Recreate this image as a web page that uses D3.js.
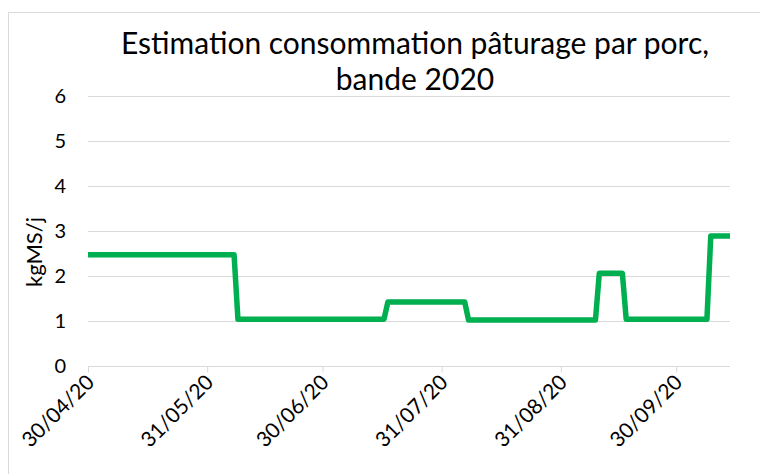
<!DOCTYPE html>
<html>
<head>
<meta charset="utf-8">
<script src="https://cdn.jsdelivr.net/npm/d3@7"></script>
<style>
  body { margin: 0; background: #fff; }
  svg { display: block; font-family: "Lato", "Liberation Sans", sans-serif; }
</style>
</head>
<body>
<div id="chart"></div>
<script>
// consommation pâturage, points de rupture de la courbe (kgMS/j par porc)
const dates = ['2020-04-30', '2020-06-07', '2020-06-08', '2020-07-16', '2020-07-17', '2020-08-06', '2020-08-07',
  '2020-09-09', '2020-09-10', '2020-09-16', '2020-09-17', '2020-10-08', '2020-10-09', '2020-10-14'];
const values = [2.47, 2.47, 1.04, 1.04, 1.42, 1.42, 1.02, 1.02, 2.06, 2.06, 1.04, 1.04, 2.89, 2.89];
const xTicks = ['2020-04-30', '2020-05-31', '2020-06-30', '2020-07-31', '2020-08-31', '2020-09-30'];
const yTicks = [0, 1, 2, 3, 4, 5, 6];
const titleLines = ['Estimation consommation pâturage par porc,', 'bande 2020'];
const yTitle = 'kgMS/j';

const width = 760;
const height = 474;
const parse = d3.utcParse('%Y-%m-%d');
const fmt = d3.utcFormat('%d/%m/%y');
const gridColor = '#d9d9d9';
const lineColor = '#00b050';

const svg = d3.select('#chart').append('svg').attr('width', width).attr('height', height);

// cadre du graphique
svg.append('rect').attr('x', 8.5).attr('y', 12.5).attr('width', 800).attr('height', 500)
  .attr('fill', 'none').attr('stroke', gridColor);

const x = d3.scaleUtc().domain([parse(dates[0]), parse(dates[dates.length - 1])]).range([88, 730]);
const y = d3.scaleLinear().domain([0, 6]).range([366, 96]);

// titre
svg.append('text').attr('text-anchor', 'middle').attr('font-size', 30).attr('fill', '#000')
  .selectAll('tspan').data(titleLines).join('tspan')
  .attr('x', 415).attr('y', (d, i) => 54 + i * 36).text(d => d);

// grille horizontale
svg.append('g').selectAll('line').data(yTicks).join('line')
  .attr('x1', x.range()[0]).attr('x2', x.range()[1])
  .attr('y1', d => Math.round(y(d)) + 0.5).attr('y2', d => Math.round(y(d)) + 0.5)
  .attr('stroke', gridColor).attr('stroke-width', 1);

// axe Y
svg.append('g').attr('font-size', 20).attr('fill', '#000')
  .selectAll('text').data(yTicks).join('text')
  .attr('x', 66).attr('y', d => y(d)).attr('dy', '0.35em').attr('text-anchor', 'end').text(d => d);

svg.append('text').attr('transform', 'translate(42,252) rotate(-90)').attr('text-anchor', 'middle')
  .attr('font-size', 22).attr('fill', '#000').text(yTitle);

// axe X
const xAxis = d3.axisBottom(x).tickValues(xTicks.map(parse)).tickSize(6).tickFormat(fmt);
const gx = svg.append('g').attr('transform', `translate(0,${Math.round(y(0)) + 0.5})`).call(xAxis);
gx.select('.domain').remove();
gx.selectAll('.tick line').attr('stroke', gridColor);
gx.selectAll('.tick text')
  .attr('font-family', '"Lato", "Liberation Sans", sans-serif').attr('font-size', 21).attr('fill', '#000')
  .attr('text-anchor', 'end').attr('dy', null).attr('y', null)
  .attr('dominant-baseline', 'central')
  .attr('transform', 'translate(1,11) rotate(-45)');

// courbe
const line = d3.line().x(d => x(d.date)).y(d => y(d.value));
const series = dates.map((d, i) => ({ date: parse(d), value: values[i] }));
svg.append('path').datum(series).attr('d', line)
  .attr('fill', 'none').attr('stroke', lineColor).attr('stroke-width', 5.5)
  .attr('stroke-linejoin', 'round').attr('stroke-linecap', 'butt');
</script>
</body>
</html>
